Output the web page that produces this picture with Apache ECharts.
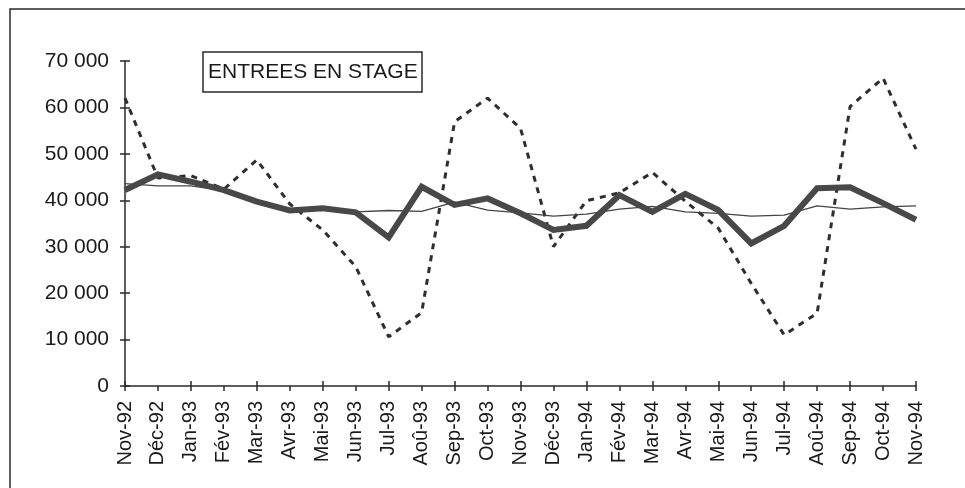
<!DOCTYPE html>
<html>
<head>
<meta charset="utf-8">
<script src="https://cdn.jsdelivr.net/npm/echarts@6/dist/echarts.min.js"></script>
<style>
  html, body { margin: 0; padding: 0; background: #fff; }
  #chart { width: 965px; height: 488px; }
</style>
</head>
<body>
<div id="chart"></div>
<script>
// months on the x axis
const months = ['Nov-92', 'Déc-92', 'Jan-93', 'Fév-93', 'Mar-93', 'Avr-93', 'Mai-93', 'Jun-93',
    'Jul-93', 'Aoû-93', 'Sep-93', 'Oct-93', 'Nov-93', 'Déc-93', 'Jan-94', 'Fév-94', 'Mar-94',
    'Avr-94', 'Mai-94', 'Jun-94', 'Jul-94', 'Aoû-94', 'Sep-94', 'Oct-94', 'Nov-94'];

// raw monthly entries (dashed)
const brutes = [62000, 44800, 45300, 42400, 48700, 39200, 33600, 25700, 10600, 15800, 56900, 62000,
    55500, 30000, 39900, 41600, 46000, 39800, 34000, 22100, 11000, 15700, 60200, 66300, 51000];

// seasonally adjusted (thick)
const cvs = [42200, 45600, 44000, 42200, 39700, 37800, 38300, 37400, 32000, 42900, 39000, 40400,
    37200, 33600, 34500, 41100, 37500, 41400, 37900, 30700, 34500, 42600, 42800, 39400, 35800];

// trend (thin)
const tendance = [43600, 43100, 43100, 42100, 40000, 38000, 38100, 37500, 37800, 37600, 39600, 37900,
    37300, 36600, 37000, 38100, 38700, 37500, 37200, 36600, 36800, 38800, 38100, 38600, 38800];

const yTicks = { min: 0, max: 70000, step: 10000 };

const chart = echarts.init(document.getElementById('chart'));
const font = '"Liberation Sans", Arial, sans-serif';
const ink = '#2a2a2a';

function fmt(v) {
    return String(v).replace(/\B(?=(\d{3})+(?!\d))/g, ' ');
}

const option = {
    backgroundColor: '#fff',
    animation: false,
    title: {
        text: 'ENTREES EN STAGE',
        left: 203,
        top: 52,
        padding: [10, 5, 9, 5],
        borderWidth: 1.5,
        borderColor: ink,
        textStyle: { fontFamily: font, fontSize: 21, fontWeight: 'normal', color: '#1a1a1a' }
    },
    graphic: [
        {
            type: 'rect',
            shape: { x: 10, y: 9, width: 1200, height: 900 },
            style: { fill: null, stroke: ink, lineWidth: 1.5 },
            silent: true
        }
    ],
    grid: { left: 125, right: 49, top: 61, bottom: 102 },
    xAxis: [
        {
            type: 'category',
            data: months,
            boundaryGap: false,
            axisLine: { lineStyle: { color: ink, width: 1.5 } },
            axisTick: { length: 5, lineStyle: { color: ink, width: 1.5 } },
            axisLabel: { rotate: 90, margin: 15, fontFamily: font, fontSize: 20, color: '#1a1a1a' },
            splitLine: { show: false }
        },
        {
            type: 'category',
            data: months,
            boundaryGap: false,
            position: 'bottom',
            axisLine: { show: false },
            axisTick: { inside: true, length: 5, lineStyle: { color: ink, width: 1.5 } },
            axisLabel: { show: false },
            splitLine: { show: false }
        }
    ],
    yAxis: [
        {
            type: 'value',
            min: yTicks.min,
            max: yTicks.max,
            interval: yTicks.step,
            axisLine: { show: true, lineStyle: { color: ink, width: 1.5 } },
            axisTick: { show: true, length: 5, lineStyle: { color: ink, width: 1.5 } },
            axisLabel: { margin: 16, fontFamily: font, fontSize: 21, color: '#1a1a1a', formatter: fmt },
            splitLine: { show: false }
        },
        {
            type: 'value',
            min: yTicks.min,
            max: yTicks.max,
            interval: yTicks.step,
            position: 'left',
            axisLine: { show: false },
            axisTick: { show: true, inside: true, length: 5, lineStyle: { color: ink, width: 1.5 } },
            axisLabel: { show: false },
            splitLine: { show: false }
        }
    ],
    series: [
        {
            name: 'Brutes',
            type: 'line',
            data: brutes,
            symbol: 'none',
            lineStyle: { color: '#2e2e2e', width: 3, type: [6, 6] }
        },
        {
            name: 'Tendance',
            type: 'line',
            data: tendance,
            symbol: 'none',
            lineStyle: { color: '#444', width: 1.3 }
        },
        {
            name: 'CVS',
            type: 'line',
            data: cvs,
            symbol: 'none',
            lineStyle: { color: '#484848', width: 6, join: 'miter' }
        }
    ]
};

chart.setOption(option);
</script>
</body>
</html>
